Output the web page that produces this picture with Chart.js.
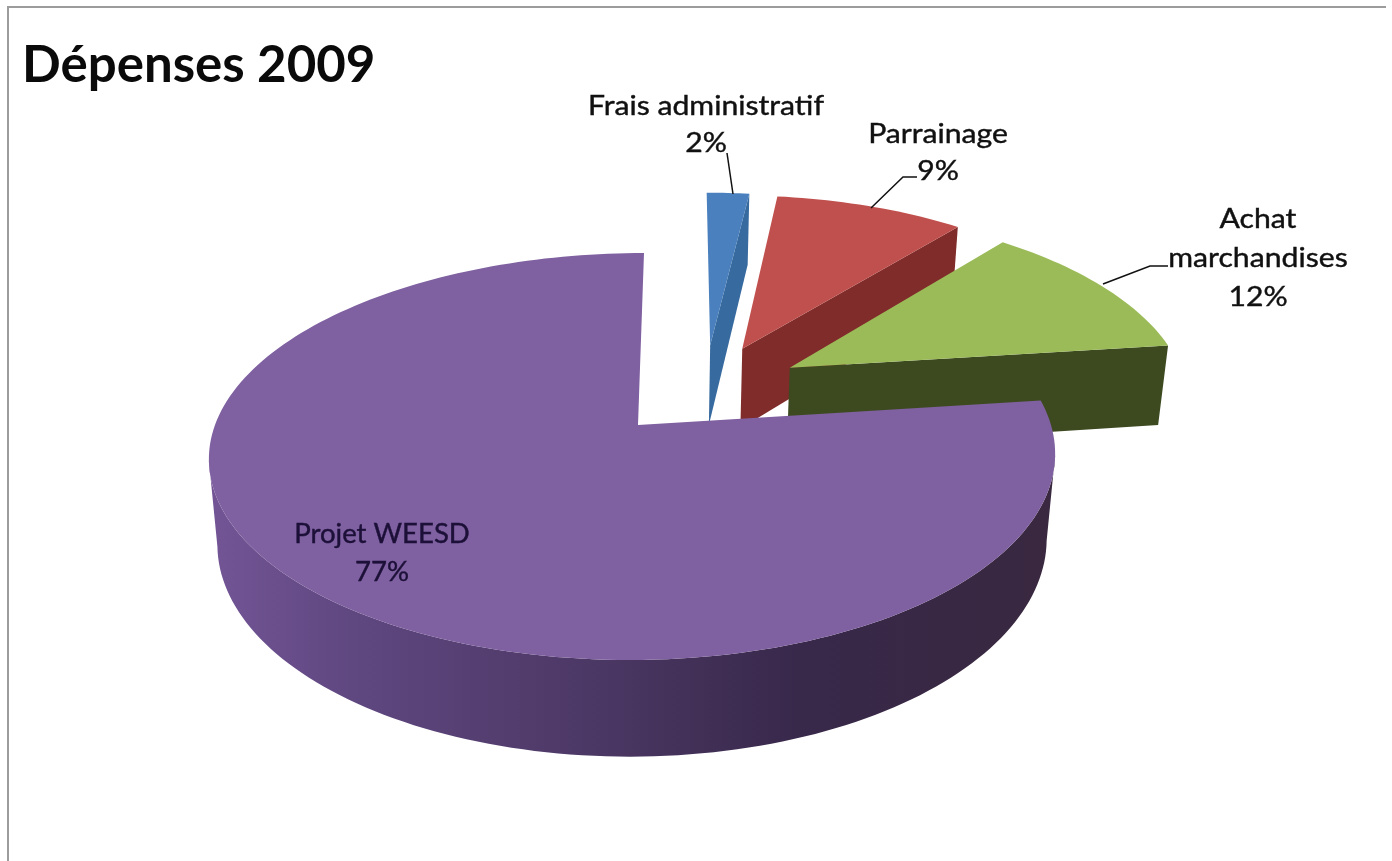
<!DOCTYPE html>
<html>
<head>
<meta charset="utf-8">
<title>Dépenses 2009</title>
<script src="https://cdn.jsdelivr.net/npm/chart.js@4"></script>
<style>
  html, body { margin: 0; padding: 0; background: #fff; }
  canvas { display: block; }
</style>
</head>
<body>
<canvas id="canvas-pie" width="1392" height="861"></canvas>
<script>
const title = 'Dépenses 2009';
const categories = ['Frais administratif', 'Parrainage', 'Achat marchandises', 'Projet WEESD'];
const values = [2, 9, 12, 77];
const topColors = ['#4a80bd', '#c0504d', '#9bbb59', '#7f60a0'];
const sideColors = ['#376a9f', '#7f2c2a', '#3d4a20', '#4a3660'];

// Excel-like 3D view: the disc is projected with a little perspective
const view = { x0: 633, y0: 425, b: 418, a: 198.6, k: 0.155, depth: 85, my: 0.01, mx: 0.02, shear: 0.035, bow: 5, cu: 0.162, cv: 0.184 };

function project(u, v, h) {
  const U = u + view.cu;
  const V = v + view.cv;
  const y = view.y0 - (view.a * V - view.depth * h) / (1 + view.k * V + view.my * h);
  const x = view.x0 + view.b * U / (1 + view.k * V + view.mx * h)
    + view.shear * view.a * V / (1 + view.k * V)
    + view.bow * (1 - U * U);
  return [x, y];
}

function arcPoints(arc, h) {
  const ratio = arc.options.offset / arc.outerRadius;
  const mid = (arc.startAngle + arc.endAngle) / 2;
  const ou = ratio * Math.cos(mid);
  const ov = -ratio * Math.sin(mid);
  const steps = Math.max(8, Math.round((arc.endAngle - arc.startAngle) * 40));
  const rim = [];
  for (let i = 0; i <= steps; i++) {
    const t = arc.startAngle + (arc.endAngle - arc.startAngle) * i / steps;
    rim.push(project(ou + Math.cos(t), ov - Math.sin(t), h));
  }
  return { apex: project(ou, ov, h), rim: rim };
}

function fillPoly(ctx, pts, color) {
  ctx.beginPath();
  pts.forEach(function (p, i) {
    if (i === 0) ctx.moveTo(p[0], p[1]);
    else ctx.lineTo(p[0], p[1]);
  });
  ctx.closePath();
  ctx.fillStyle = color;
  ctx.fill();
}

function area(pts) {
  let s = 0;
  pts.forEach(function (p, i) {
    const q = pts[(i + 1) % pts.length];
    s += p[0] * q[1] - q[0] * p[1];
  });
  return s / 2;
}

function rimGradient(ctx) {
  const g = ctx.createLinearGradient(209, 0, 1055, 0);
  g.addColorStop(0, '#735596');
  g.addColorStop(0.17, '#5f4780');
  g.addColorStop(0.45, '#4c3865');
  g.addColorStop(0.7, '#38284a');
  g.addColorStop(1, '#39283f');
  return g;
}

// only the part of the rim that faces the viewer (clockwise, so x goes down)
function frontBand(top, low) {
  const upper = [];
  const lower = [];
  for (let i = 0; i < top.rim.length - 1; i++) {
    if (top.rim[i + 1][0] < top.rim[i][0]) {
      upper.push(top.rim[i], top.rim[i + 1]);
      lower.unshift(low.rim[i + 1], low.rim[i]);
    }
  }
  return upper.concat(lower);
}

const pie3d = {
  id: 'pie3d',
  beforeDraw(chart) {
    const ctx = chart.ctx;
    ctx.save();
    ctx.strokeStyle = '#9c9c9c';
    ctx.lineWidth = 2;
    ctx.beginPath();
    ctx.moveTo(8, 861);
    ctx.lineTo(8, 7);
    ctx.lineTo(1386, 7);
    ctx.stroke();
    ctx.restore();
  },
  beforeDatasetDraw(chart) {
    const ctx = chart.ctx;
    const arcs = chart.getDatasetMeta(0).data;
    ctx.save();
    arcs.forEach(function (arc, i) {
      const top = arcPoints(arc, 0);
      const low = arcPoints(arc, 1);
      const last = top.rim.length - 1;
      const side = sideColors[i];

      const startCut = [top.apex, top.rim[0], low.rim[0], low.apex];
      const endCut = [top.apex, top.rim[last], low.rim[last], low.apex];
      if (area(startCut) < -1000) fillPoly(ctx, startCut, side);
      if (area(endCut) > 1000) fillPoly(ctx, endCut, side);

      const band = frontBand(top, low);
      if (band.length) fillPoly(ctx, band, i === 3 ? rimGradient(ctx) : side);
      fillPoly(ctx, [top.apex].concat(top.rim), topColors[i]);
    });
    ctx.restore();
    return false;
  },
  afterDatasetsDraw(chart) {
    const ctx = chart.ctx;
    ctx.save();

    ctx.strokeStyle = '#111';
    ctx.lineWidth = 1.5;
    [
      [[727, 153], [733, 194]],
      [[871, 208], [903, 177], [917, 177]],
      [[1103, 284], [1150, 266], [1168, 266]]
    ].forEach(function (line) {
      ctx.beginPath();
      line.forEach(function (p, i) {
        if (i === 0) ctx.moveTo(p[0], p[1]);
        else ctx.lineTo(p[0], p[1]);
      });
      ctx.stroke();
    });

    // the reference text is stretched sideways, hence the stretch factors
    const spots = [
      { x: 706, y: 115, step: 37, wrap: false, color: '#111', stretch: 1.16 },
      { x: 938, y: 143, step: 37, wrap: false, color: '#111', stretch: 1.16 },
      { x: 1258, y: 228, step: 39, wrap: true, color: '#111', stretch: 1.16 },
      { x: 382, y: 543, step: 38, wrap: false, color: '#1c1038', stretch: 1.06 }
    ];
    ctx.font = '26px Lato';
    ctx.textAlign = 'center';
    ctx.textBaseline = 'alphabetic';
    ctx.lineWidth = 0.4;
    spots.forEach(function (s, i) {
      const lines = (s.wrap ? categories[i].split(' ') : [categories[i]]).concat(values[i] + '%');
      ctx.fillStyle = s.color;
      ctx.strokeStyle = s.color;
      lines.forEach(function (text, n) {
        ctx.save();
        ctx.translate(s.x, s.y + n * s.step);
        ctx.scale(s.stretch, 1);
        ctx.fillText(text, 0, 0);
        ctx.strokeText(text, 0, 0);
        ctx.restore();
      });
    });
    ctx.restore();
  }
};

new Chart(document.getElementById('canvas-pie'), {
  type: 'pie',
  data: {
    labels: categories,
    datasets: [
      {
        data: values,
        backgroundColor: topColors,
        borderWidth: 0,
        offset: 58.8
      }
    ]
  },
  options: {
    responsive: false,
    animation: false,
    radius: 240,
    layout: {
      padding: { left: 22, top: 35 }
    },
    plugins: {
      legend: { display: false },
      tooltip: { enabled: false },
      title: {
        display: true,
        text: title,
        align: 'start',
        color: '#0a0a0a',
        padding: { top: 0, bottom: 0 },
        font: { family: 'Lato', size: 51, weight: 'bold' }
      }
    }
  },
  plugins: [pie3d]
});
</script>
</body>
</html>
